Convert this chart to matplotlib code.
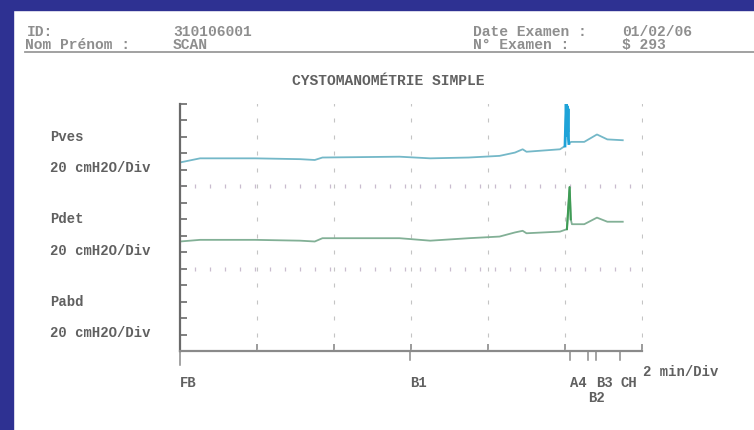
import numpy as np
import matplotlib
matplotlib.use("Agg")
import matplotlib.pyplot as plt
from matplotlib.patches import Rectangle
from matplotlib.transforms import blended_transform_factory

# --- data (time in min, pressure in cmH2O) ---
pves_t = [0, 0.52, 1.95, 3.12, 3.5, 3.7, 5.7, 6.5, 7.5, 8.3, 8.7, 8.9, 9.0, 9.87, 10.0,
          10.03, 10.05, 10.06, 10.07, 10.08, 10.09, 10.1, 10.16, 10.5, 10.83, 11.1, 11.5]
pves_v = [29, 34, 34, 33, 32, 35, 36, 34, 35, 37, 41, 45, 42, 45, 49,
          100, 62, 97, 66, 94, 58, 52, 54, 54, 63, 57, 56]

pdet_t = [0, 0.52, 1.95, 3.12, 3.5, 3.7, 5.7, 6.5, 7.5, 8.3, 8.7, 8.9, 9.0, 9.87, 10.05,
          10.12, 10.15, 10.18, 10.5, 10.83, 11.1, 11.5]
pdet_v = [33, 35, 35, 34, 33, 37, 37, 34, 37, 39, 44, 46, 43, 45, 48,
          99, 60, 54, 54, 62, 57, 57]

channels = ["Pves", "Pdet", "Pabd"]
scale_label = "20 cmH2O/Div"
events = ["FB", "B1", "A4", "B2", "B3", "CH"]
event_t = [0, 5.97, 10.13, 10.6, 10.8, 11.43]
event_row = [0, 0, 0, 1, 0, 0]

W, H = 754, 431
fig = plt.figure(figsize=(W / 100, H / 100), dpi=100)
fig.patch.set_facecolor("white")


def fx(x):
    return x / W


def fy(y):
    return 1 - y / H


# blue frame of the screenshot
frame = "#2e3192"
fig.patches.append(Rectangle((0, fy(11)), 1, 11 / H, transform=fig.transFigure,
                             color=frame, zorder=0))
fig.patches.append(Rectangle((0, 0), fx(13), 1, transform=fig.transFigure,
                             color=frame, zorder=0))

mono = ["Liberation Mono", "DejaVu Sans Mono"]
txt = "#606060"
head = "#8e8e8e"

# header
hd = dict(family=mono, fontsize=10.5, color=head, va="center", weight="bold")
fig.text(fx(27), fy(32), "ID:", **hd)
fig.text(fx(173), fy(32), "310106001", **hd)
fig.text(fx(25), fy(45), "Nom Prénom :", **hd)
fig.text(fx(173), fy(45), "SCAN", **hd)
fig.text(fx(473), fy(32), "Date Examen :", **hd)
fig.text(fx(622), fy(32), "01/02/06", **hd)
fig.text(fx(473), fy(45), "N° Examen :", **hd)
fig.text(fx(622), fy(45), "$ 293", **hd)
fig.add_artist(plt.Line2D([fx(25), 1], [fy(53), fy(53)], color="#9a9a9a", lw=1.3))
fig.text(fx(388), fy(81), "CYSTOMANOMÉTRIE SIMPLE", family=mono, fontsize=10.5, color=txt,
         ha="center", va="center", weight="bold")

ax = fig.add_axes([fx(180), fy(352), fx(642) - fx(180), fy(105) - fy(352)])
ax.set_xlim(0, 12)
ax.set_ylim(0, 300)
for s in ["top", "right"]:
    ax.spines[s].set_visible(False)
ax.spines["left"].set_color("#6a6a6a")
ax.spines["bottom"].set_color("#8a8a8a")
ax.spines["left"].set_linewidth(1.6)
ax.spines["bottom"].set_linewidth(1.6)
ax.set_yticks(np.arange(0, 301, 20))
ax.set_xticks(np.arange(0, 13, 2))
ax.tick_params(axis="y", direction="in", length=5, width=1.2, color="#6a6a6a", labelleft=False)
ax.tick_params(axis="x", direction="in", length=5, width=1.2, color="#8a8a8a", labelbottom=False)

# dotted grid: small dashes on each division
gx, gy = np.meshgrid(np.arange(2, 13, 2), np.arange(0, 301, 20))
ax.plot(gx.ravel(), gy.ravel(), ls="none", marker="|", ms=3, mew=0.8, color="#c4c4c4")
dash_x = np.arange(0, 12.01, 0.39)
for b in [100, 200]:
    ax.plot(dash_x, np.full(len(dash_x), b), ls="none", marker="|", ms=3, mew=0.9,
            color="#c9bccf")

# traces, offset into their channel bands
pves_t = np.array(pves_t)
pdet_t = np.array(pdet_t)
ax.plot(pves_t, np.array(pves_v) + 200, color="#74b8c8", lw=1.3)
sp = (pves_t >= 10.0) & (pves_t <= 10.1)
ax.plot(pves_t[sp], np.array(pves_v)[sp] + 200, color="#1ea3d8", lw=2.0)
ax.plot(pdet_t, np.array(pdet_v) + 100, color="#82b096", lw=1.3)
sd = (pdet_t >= 10.05) & (pdet_t <= 10.15)
ax.plot(pdet_t[sd], np.array(pdet_v)[sd] + 100, color="#3f9c55", lw=1.5)

# channel labels
tr = blended_transform_factory(fig.transFigure, ax.transData)
lab = dict(family=mono, fontsize=10, color=txt, va="center", weight="bold", clip_on=False)
for i, name in enumerate(channels):
    base = 200 - 100 * i
    ax.text(fx(50), base + 61, name, transform=tr, **lab)
    ax.text(fx(50), base + 23, scale_label, transform=tr, **lab)

# event markers below the time axis
for name, t, row in zip(events, event_t, event_row):
    ax.plot([t, t], [0, -17 if t == 0 else -11], color="#8a8a8a", lw=1.1, clip_on=False)
    ax.text(t, -38 - 18 * row, name, ha="left", **lab)
ax.text(12.02, -24, "2 min/Div", ha="left", **lab)

fig.savefig("out.png", dpi=100, facecolor="white")
